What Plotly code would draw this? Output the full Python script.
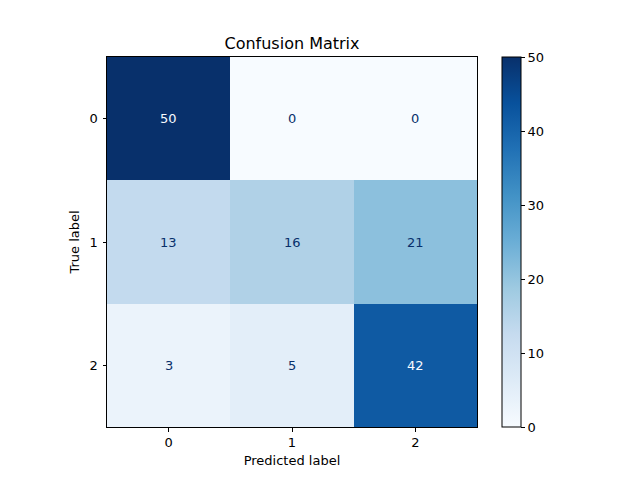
import plotly.graph_objects as go

labels = ["0", "1", "2"]
matrix = [[50, 0, 0],
          [13, 16, 21],
          [3, 5, 42]]
cbar_ticks = [0, 10, 20, 30, 40, 50]
blues = ["#f7fbff", "#deebf7", "#c6dbef", "#9ecae1", "#6baed6",
         "#4292c6", "#2171b5", "#08519c", "#08306b"]
colorscale = [[i / (len(blues) - 1), c] for i, c in enumerate(blues)]

FONT = "DejaVu Sans"
vmin = min(min(r) for r in matrix)
vmax = max(max(r) for r in matrix)
thresh = (vmin + vmax) / 2.0

fig = go.Figure()
fig.add_trace(go.Heatmap(
    z=matrix, x=[0, 1, 2], y=[0, 1, 2], colorscale=colorscale,
    zmin=vmin, zmax=vmax, showscale=True, hoverinfo="skip",
    colorbar=dict(x=(502 - 107) / 370, xanchor="left", xref="paper",
                  y=0.5, yanchor="middle", len=1, lenmode="fraction",
                  thickness=19, thicknessmode="pixels",
                  outlinewidth=1, outlinecolor="black",
                  ticks="outside", ticklen=4, tickcolor="black",
                  tickvals=cbar_ticks, ticktext=[str(t) for t in cbar_ticks],
                  tickfont=dict(family=FONT, size=13, color="black"),
                  xpad=0, ypad=0),
))

for i, row in enumerate(matrix):
    for j, v in enumerate(row):
        fig.add_annotation(x=j, y=i, text=str(v), showarrow=False,
                           font=dict(family=FONT, size=13,
                                     color=blues[0] if v > thresh else blues[-1]))

fig.update_layout(
    width=640, height=480,
    margin=dict(l=107, r=163, t=57, b=53),
    paper_bgcolor="white", plot_bgcolor="white",
    title=dict(text="Confusion Matrix", x=0.5, xref="paper", xanchor="center",
               y=1 - 43 / 480, yref="container", yanchor="middle",
               font=dict(family=FONT, size=16, color="black")),
    xaxis=dict(range=[-0.5, 2.5], tickvals=[0, 1, 2], ticktext=labels,
               showline=True, mirror=True, linecolor="black", linewidth=1,
               ticks="outside", ticklen=3.5, tickcolor="black", showgrid=False,
               zeroline=False, tickfont=dict(family=FONT, size=13, color="black"),
               title=dict(text="Predicted label", standoff=6,
                          font=dict(family=FONT, size=13, color="black"))),
    yaxis=dict(range=[2.5, -0.5], tickvals=[0, 1, 2], ticktext=labels,
               showline=True, mirror=True, linecolor="black", linewidth=1,
               ticks="outside", ticklen=3.5, tickcolor="black", showgrid=False,
               zeroline=False, ticklabelstandoff=2,
               tickfont=dict(family=FONT, size=13, color="black"),
               title=dict(text="True label", standoff=7,
                          font=dict(family=FONT, size=13, color="black"))),
)

fig.write_html("out.html")
